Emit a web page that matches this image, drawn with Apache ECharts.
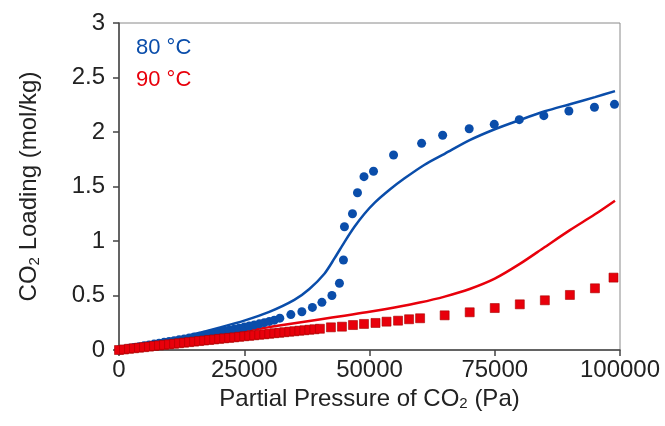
<!DOCTYPE html>
<html>
<head>
<meta charset="utf-8">
<script src="https://cdn.jsdelivr.net/npm/echarts@6/dist/echarts.min.js"></script>
<style>
  html, body { margin: 0; padding: 0; background: #fff; }
  #chart { width: 665px; height: 426px; }
</style>
</head>
<body>
<div id="chart"></div>
<script>
// 80 °C measured points (Pa, mol/kg)
const blueDotP = [0, 1000, 2000, 3000, 4000, 5000, 6000, 7000, 8000, 9000, 10000, 11000, 12000, 13000, 14000,
  15000, 16000, 17000, 18000, 19000, 20000, 21000, 22000, 23000, 24000, 25000, 26000, 27000, 28000, 29000,
  30000, 31000, 32100, 34300, 36500, 38600, 40500, 42500, 44000, 44800, 45000, 46600, 47600, 48900, 50800,
  54800, 60400, 64600, 69900, 74900, 79900, 84800, 89800, 94900, 98900];
const blueDotQ = [0, 0.0075, 0.015, 0.023, 0.030, 0.038, 0.046, 0.054, 0.062, 0.070, 0.078, 0.086, 0.094, 0.102, 0.110,
  0.119, 0.127, 0.136, 0.145, 0.154, 0.163, 0.172, 0.181, 0.191, 0.200, 0.210, 0.220, 0.230, 0.240, 0.251,
  0.262, 0.274, 0.292, 0.325, 0.351, 0.391, 0.437, 0.500, 0.612, 0.826, 1.131, 1.250, 1.443, 1.590, 1.640,
  1.789, 1.896, 1.970, 2.030, 2.070, 2.113, 2.150, 2.193, 2.227, 2.254];

// 90 °C measured points
const redSqP = [0, 1000, 2000, 3000, 4000, 5000, 6000, 7000, 8000, 9000, 10000, 11000, 12000, 13000, 14000,
  15000, 16000, 17000, 18000, 19000, 20000, 21000, 22000, 23000, 24000, 25000, 26000, 27000, 28000, 29000,
  30000, 31000, 32000, 33000, 34000, 35000, 36000, 37000, 38000, 39000, 40100, 42300, 44500, 46700, 48900,
  51200, 53400, 55700, 57900, 60100, 65000, 70000, 75000, 80000, 85000, 90000, 95000, 98700];
const redSqQ = [0, 0.005, 0.011, 0.016, 0.021, 0.026, 0.031, 0.037, 0.042, 0.047, 0.052, 0.057, 0.062, 0.067, 0.072,
  0.077, 0.082, 0.087, 0.092, 0.097, 0.102, 0.107, 0.111, 0.116, 0.121, 0.126, 0.130, 0.135, 0.140, 0.144,
  0.149, 0.154, 0.158, 0.163, 0.168, 0.172, 0.177, 0.181, 0.186, 0.190, 0.195, 0.208, 0.214, 0.229, 0.239,
  0.248, 0.260, 0.269, 0.282, 0.291, 0.318, 0.346, 0.385, 0.419, 0.456, 0.505, 0.566, 0.664];

// model curves
const blueFitP = [0, 5000, 10000, 15000, 20000, 25000, 30000, 35000, 38000, 41000, 43000, 45000, 47000, 49000,
  51000, 54000, 57000, 61000, 65000, 70000, 75000, 80000, 85000, 90000, 95000, 99000];
const blueFitQ = [0, 0.045, 0.09, 0.145, 0.205, 0.27, 0.35, 0.46, 0.56, 0.70, 0.84, 0.99, 1.13, 1.25,
  1.35, 1.47, 1.575, 1.70, 1.80, 1.925, 2.025, 2.11, 2.19, 2.255, 2.32, 2.375];
const redFitP = [0, 10000, 20000, 30000, 40000, 45000, 50000, 55000, 60000, 65000, 70000, 75000, 80000,
  85000, 90000, 95000, 99000];
const redFitQ = [0, 0.068, 0.138, 0.21, 0.28, 0.315, 0.35, 0.39, 0.435, 0.49, 0.56, 0.655, 0.79,
  0.945, 1.10, 1.245, 1.37];

const xTicks = [0, 25000, 50000, 75000, 100000];
const yTicks = [0, 0.5, 1, 1.5, 2, 2.5, 3];

const BLUE = '#0A4DAA';
const RED = '#E8000B';
const FONT = 'Liberation Sans, Arial, sans-serif';

const zip = (a, b) => a.map((v, i) => [v, b[i]]);

const chart = echarts.init(document.getElementById('chart'));

const option = {
  animation: false,
  textStyle: { fontFamily: FONT },
  title: [
    { text: '80 °C', left: 131, top: 32, textStyle: { color: BLUE, fontSize: 22, fontWeight: 'normal', fontFamily: FONT } },
    { text: '90 °C', left: 131, top: 64, textStyle: { color: RED, fontSize: 22, fontWeight: 'normal', fontFamily: FONT } }
  ],
  grid: {
    left: 119, right: 45, top: 23, bottom: 76,
    show: true, borderColor: '#8a8a8a', borderWidth: 1, backgroundColor: 'transparent'
  },
  xAxis: {
    type: 'value',
    min: 0, max: 100000, interval: 25000,
    name: 'Partial Pressure of CO{sub|2} (Pa)',
    nameLocation: 'middle',
    nameGap: 36,
    nameTextStyle: {
      fontSize: 24, color: '#222', fontFamily: FONT,
      rich: { sub: { fontSize: 15, color: '#222', padding: [10, 0, 0, 0], fontFamily: FONT } }
    },
    axisLine: { show: true, lineStyle: { color: '#444', width: 1.5 } },
    axisTick: { show: true, inside: false, length: 6, lineStyle: { color: '#444', width: 1.5 } },
    axisLabel: {
      fontSize: 24, color: '#222', margin: 8, fontFamily: FONT,
      customValues: xTicks,
      formatter: v => String(v)
    },
    splitLine: { show: false }
  },
  yAxis: {
    type: 'value',
    min: 0, max: 3, interval: 0.5,
    name: 'CO{sub|2} Loading (mol/kg)',
    nameLocation: 'middle',
    nameGap: 77,
    nameRotate: 90,
    nameTextStyle: {
      fontSize: 24, color: '#222', fontFamily: FONT,
      rich: { sub: { fontSize: 15, color: '#222', padding: [10, 0, 0, 0], fontFamily: FONT } }
    },
    axisLine: { show: true, lineStyle: { color: '#444', width: 1.5 } },
    axisTick: { show: true, inside: false, length: 6, lineStyle: { color: '#444', width: 1.5 } },
    axisLabel: {
      fontSize: 24, color: '#222', margin: 14, fontFamily: FONT,
      customValues: yTicks,
      formatter: v => String(v)
    },
    splitLine: { show: false }
  },
  series: [
    {
      name: '80 °C fit',
      type: 'line',
      data: zip(blueFitP, blueFitQ),
      smooth: 0.3,
      showSymbol: false,
      lineStyle: { color: BLUE, width: 2.5 },
      z: 3
    },
    {
      name: '90 °C fit',
      type: 'line',
      data: zip(redFitP, redFitQ),
      smooth: 0.3,
      showSymbol: false,
      lineStyle: { color: RED, width: 2.5 },
      z: 3
    },
    {
      name: '80 °C',
      type: 'scatter',
      data: zip(blueDotP, blueDotQ),
      symbol: 'circle',
      symbolSize: 9,
      itemStyle: { color: BLUE, opacity: 1 },
      z: 4
    },
    {
      name: '90 °C',
      type: 'scatter',
      data: zip(redSqP, redSqQ),
      symbol: 'rect',
      symbolSize: 9,
      itemStyle: { color: RED, borderColor: '#A80000', borderWidth: 0.6, opacity: 1 },
      z: 5
    }
  ]
};

chart.setOption(option);
</script>
</body>
</html>
